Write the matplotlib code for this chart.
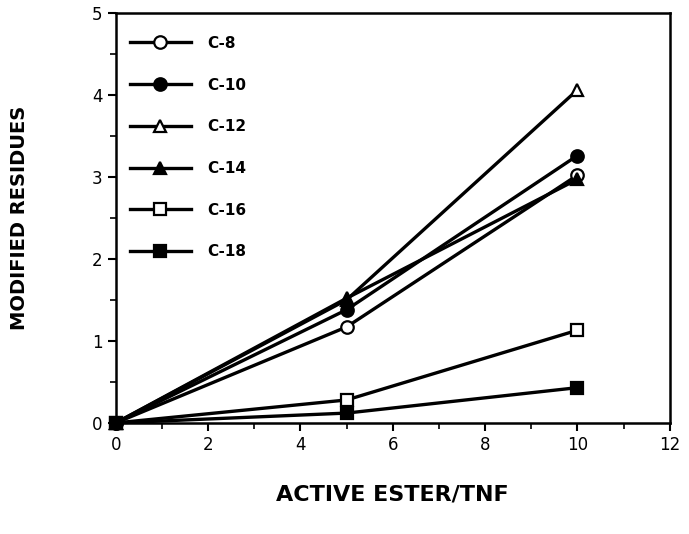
import matplotlib
matplotlib.use('Agg')
import matplotlib.pyplot as plt
from matplotlib.ticker import MultipleLocator

# data
ester = [0, 5, 10]
names = ['C-8', 'C-10', 'C-12', 'C-14', 'C-16', 'C-18']
c8 = [0, 1.17, 3.02]
c10 = [0, 1.38, 3.26]
c12 = [0, 1.50, 4.06]
c14 = [0, 1.52, 2.97]
c16 = [0, 0.28, 1.13]
c18 = [0, 0.12, 0.43]
series = [c8, c10, c12, c14, c16, c18]

markers = ['o', 'o', '^', '^', 's', 's']
fills = ['white', 'black', 'white', 'black', 'white', 'black']

plt.rcParams['font.family'] = ['DejaVu Sans']

fig = plt.figure(figsize=(6.89, 5.34), dpi=100)
ax = fig.add_axes([0.168, 0.208, 0.804, 0.768])

for vals, nm, mk, fc in zip(series, names, markers, fills):
    ax.plot(ester, vals, color='black', lw=2.4, marker=mk, ms=9,
            mfc=fc, mec='black', mew=1.6, label=nm, clip_on=False)

ax.set_xlim(0, 12)
ax.set_ylim(0, 5)
ax.xaxis.set_major_locator(MultipleLocator(2))
ax.xaxis.set_minor_locator(MultipleLocator(1))
ax.yaxis.set_major_locator(MultipleLocator(1))
ax.yaxis.set_minor_locator(MultipleLocator(0.5))
ax.tick_params(which='major', length=6, width=1.5, labelsize=12, direction='out')
ax.tick_params(which='minor', length=4, width=1.2, direction='out')
for s in ax.spines.values():
    s.set_linewidth(1.8)

ax.set_xlabel('ACTIVE ESTER/TNF', fontsize=16, fontweight='bold', labelpad=22)
ax.set_ylabel('MODIFIED RESIDUES', fontsize=14, fontweight='bold', labelpad=45)

leg = ax.legend(loc='upper left', bbox_to_anchor=(-0.005, 0.985), frameon=False,
                handlelength=4.0, labelspacing=1.75, borderaxespad=0.7,
                handletextpad=1.1, prop={'weight': 'bold', 'size': 11})

fig.savefig('out.png', dpi=100)
